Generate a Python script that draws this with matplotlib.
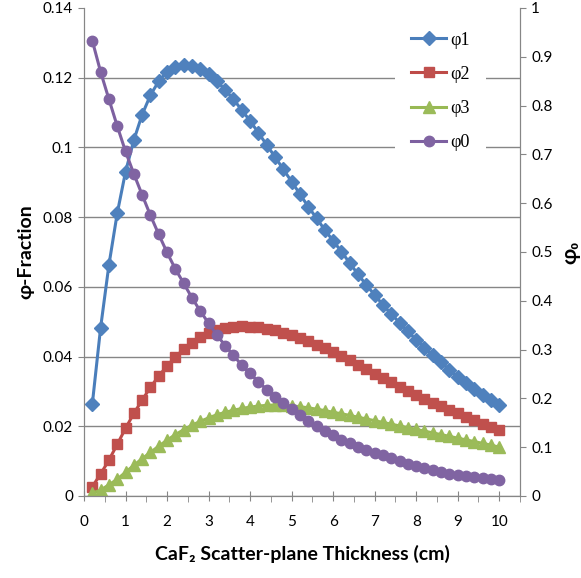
import matplotlib
matplotlib.use('Agg')
import matplotlib.pyplot as plt
from matplotlib.ticker import MultipleLocator

plt.rcParams['font.family'] = ['Lato', 'DejaVu Sans']

# --- donnees ---
thickness = [0.2, 0.4, 0.6, 0.8, 1.0, 1.2, 1.4, 1.6, 1.8, 2.0,
             2.2, 2.4, 2.6, 2.8, 3.0, 3.2, 3.4, 3.6, 3.8, 4.0,
             4.2, 4.4, 4.6, 4.8, 5.0, 5.2, 5.4, 5.6, 5.8, 6.0,
             6.2, 6.4, 6.6, 6.8, 7.0, 7.2, 7.4, 7.6, 7.8, 8.0,
             8.2, 8.4, 8.6, 8.8, 9.0, 9.2, 9.4, 9.6, 9.8, 10.0]

phi1 = [0.0264, 0.0483, 0.0663, 0.0811, 0.0930, 0.1021, 0.1094, 0.1150, 0.1190, 0.1217,
        0.1230, 0.1236, 0.1234, 0.1224, 0.1211, 0.1190, 0.1165, 0.1138, 0.1107, 0.1076,
        0.1042, 0.1007, 0.0973, 0.0937, 0.0902, 0.0866, 0.0830, 0.0797, 0.0763, 0.0732,
        0.0701, 0.0668, 0.0636, 0.0605, 0.0577, 0.0548, 0.0522, 0.0497, 0.0472, 0.0448,
        0.0425, 0.0404, 0.0383, 0.0362, 0.0342, 0.0323, 0.0306, 0.0290, 0.0275, 0.0261]

phi2 = [0.0027, 0.0063, 0.0103, 0.0148, 0.0194, 0.0237, 0.0275, 0.0312, 0.0344, 0.0373,
        0.0399, 0.0421, 0.0440, 0.0455, 0.0467, 0.0476, 0.0482, 0.0486, 0.0487, 0.0486,
        0.0484, 0.0480, 0.0475, 0.0468, 0.0461, 0.0453, 0.0444, 0.0434, 0.0424, 0.0414,
        0.0401, 0.0389, 0.0376, 0.0363, 0.0350, 0.0338, 0.0326, 0.0314, 0.0302, 0.0290,
        0.0279, 0.0268, 0.0258, 0.0247, 0.0237, 0.0227, 0.0217, 0.0207, 0.0198, 0.0189]

phi3 = [0.0008, 0.0017, 0.0032, 0.0048, 0.0068, 0.0088, 0.0107, 0.0125, 0.0143, 0.0160,
        0.0176, 0.0190, 0.0203, 0.0214, 0.0224, 0.0233, 0.0240, 0.0246, 0.0251, 0.0255,
        0.0258, 0.0260, 0.0261, 0.0261, 0.0259, 0.0256, 0.0253, 0.0249, 0.0245, 0.0240,
        0.0236, 0.0231, 0.0226, 0.0221, 0.0216, 0.0211, 0.0206, 0.0201, 0.0196, 0.0191,
        0.0186, 0.0181, 0.0176, 0.0171, 0.0166, 0.0161, 0.0156, 0.0151, 0.0146, 0.0140]

# phi0 sur l'axe de droite
phi0 = [0.933, 0.869, 0.813, 0.758, 0.706, 0.660, 0.617, 0.575, 0.536, 0.499,
        0.465, 0.436, 0.406, 0.379, 0.354, 0.330, 0.308, 0.288, 0.268, 0.251,
        0.234, 0.218, 0.203, 0.190, 0.178, 0.166, 0.154, 0.143, 0.133, 0.124,
        0.115, 0.108, 0.101, 0.095, 0.089, 0.083, 0.077, 0.071, 0.066, 0.061,
        0.057, 0.053, 0.049, 0.046, 0.043, 0.040, 0.038, 0.036, 0.034, 0.032]

fig = plt.figure(figsize=(5.81, 5.78), dpi=100)
ax = fig.add_axes([0.1446, 0.1419, 0.7504, 0.8443])
ax2 = ax.twinx()

lw = 2.2
l1, = ax.plot(thickness, phi1, color='#4A7EBB', lw=lw, marker='D', ms=7,
              mfc='#4F81BD', mec='#4F81BD', label='φ1')
l2, = ax.plot(thickness, phi2, color='#BE4B48', lw=lw, marker='s', ms=7,
              mfc='#C0504D', mec='#C0504D', label='φ2')
l3, = ax.plot(thickness, phi3, color='#98B954', lw=lw, marker='^', ms=8,
              mfc='#9BBB59', mec='#9BBB59', label='φ3')
l0, = ax2.plot(thickness, phi0, color='#7D60A0', lw=lw, marker='o', ms=7.5,
               mfc='#8064A2', mec='#8064A2', label='φ0')

gray = '#868686'
ax.set_xlim(0, 10.5)
ax.set_ylim(0, 0.14)
ax2.set_ylim(0, 1)
ax.xaxis.set_minor_locator(MultipleLocator(0.5))
ax.set_xticks(range(0, 11))
ax.set_yticks([0, 0.02, 0.04, 0.06, 0.08, 0.1, 0.12, 0.14])
ax.set_yticklabels(['0', '0.02', '0.04', '0.06', '0.08', '0.1', '0.12', '0.14'])
ax2.set_yticks([i / 10 for i in range(11)])
ax2.set_yticklabels(['0', '0.1', '0.2', '0.3', '0.4', '0.5', '0.6', '0.7', '0.8', '0.9', '1'])

ax.grid(axis='y', color=gray, lw=1)
ax.get_ygridlines()[-1].set_visible(False)
ax.set_axisbelow(True)

for a in (ax, ax2):
    a.spines['top'].set_visible(False)
    for s in ('left', 'right', 'bottom'):
        a.spines[s].set_color(gray)
ax.tick_params(axis='x', which='major', direction='inout', length=7, color=gray,
               labelsize=11, pad=10)
ax.tick_params(axis='x', which='minor', direction='out', length=4, color=gray)
ax.tick_params(axis='y', direction='out', length=4, color=gray, labelsize=11, pad=4)
ax2.tick_params(axis='y', direction='out', length=4, color=gray, labelsize=11, pad=4)

ax.set_xlabel('CaF₂ Scatter-plane Thickness (cm)', fontsize=14, fontweight='bold', labelpad=12)
ax.set_ylabel('φ-Fraction', fontsize=14, fontweight='bold', labelpad=6)
ax2.set_ylabel('φ₀', fontsize=15, fontweight='bold', labelpad=6)

# legende sur fond blanc (coupe les lignes de grille comme dans Excel)
leg = ax2.legend(handles=[l1, l2, l3, l0], loc='upper left', bbox_to_anchor=(0.713, 0.985),
                 frameon=True, fancybox=False, edgecolor='none', facecolor='white', framealpha=1,
                 prop={'family': 'Liberation Serif', 'size': 13}, handlelength=1.95,
                 labelspacing=0.95, handletextpad=0.2, borderpad=0.9, borderaxespad=0)

fig.savefig('out.png', dpi=100)
